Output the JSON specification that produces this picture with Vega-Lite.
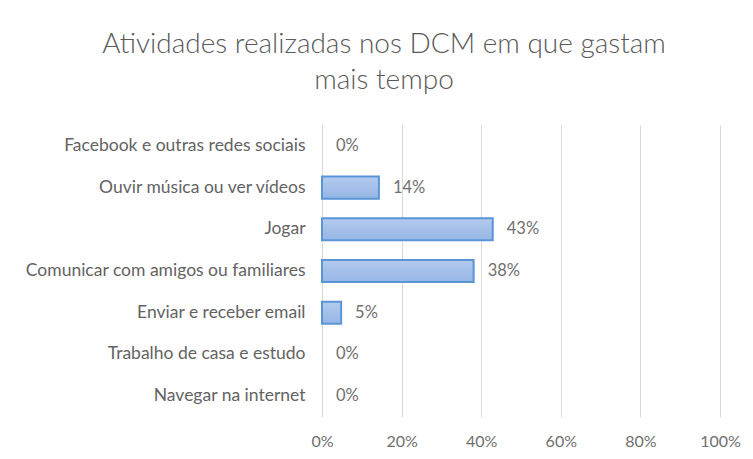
{
  "$schema": "https://vega.github.io/schema/vega-lite/v6.json",
  "autosize": {"type": "none"},
  "width": 398,
  "height": 292,
  "padding": {"left": 322, "top": 125, "right": 33, "bottom": 42},
  "background": "#ffffff",
  "title": {
    "text": ["Atividades  realizadas  nos  DCM  em  que  gastam", "mais  tempo"],
    "font": "Lato",
    "fontSize": 28,
    "fontWeight": 300,
    "color": "#595959",
    "anchor": "middle",
    "dx": -137,
    "offset": 30,
    "lineHeight": 36
  },
  "data": {
    "values": [
      {"atividade": "Facebook e outras redes sociais", "valor": 0},
      {"atividade": "Ouvir música ou ver vídeos", "valor": 0.143},
      {"atividade": "Jogar", "valor": 0.429},
      {"atividade": "Comunicar com amigos ou familiares", "valor": 0.381},
      {"atividade": "Enviar e receber email", "valor": 0.048},
      {"atividade": "Trabalho de casa e estudo", "valor": 0},
      {"atividade": "Navegar na internet", "valor": 0}
    ]
  },
  "encoding": {
    "y": {
      "field": "atividade",
      "type": "nominal",
      "sort": ["Facebook e outras redes sociais", "Ouvir música ou ver vídeos", "Jogar", "Comunicar com amigos ou familiares", "Enviar e receber email", "Trabalho de casa e estudo", "Navegar na internet"],
      "scale": {"paddingInner": 0.47, "paddingOuter": 0.235},
      "axis": {
        "title": null,
        "domain": false,
        "ticks": false,
        "labelPadding": 17,
        "labelLimit": 0,
        "labelFont": "Lato",
        "labelFontSize": 17.5,
        "labelColor": "#636363",
        "grid": false
      }
    },
    "x": {
      "field": "valor",
      "type": "quantitative",
      "scale": {"domain": [0, 1], "nice": false},
      "axis": {
        "title": null,
        "format": ".0%",
        "values": [0, 0.2, 0.4, 0.6, 0.8, 1],
        "domain": false,
        "ticks": false,
        "grid": true,
        "gridColor": "#d9d9d9",
        "gridWidth": 1,
        "labelFlush": false,
        "labelPadding": 16,
        "labelFont": "Lato",
        "labelFontSize": 16,
        "labelColor": "#6f6f6f"
      }
    }
  },
  "layer": [
    {
      "transform": [{"filter": "datum.valor > 0"}],
      "mark": {
        "type": "bar",
        "cornerRadius": 0,
        "stroke": "#5b95d8",
        "strokeWidth": 2,
        "color": {
          "gradient": "linear",
          "x1": 0, "y1": 0, "x2": 0, "y2": 1,
          "stops": [
            {"offset": 0, "color": "#b3cbee"},
            {"offset": 1, "color": "#95b6e5"}
          ]
        }
      }
    },
    {
      "mark": {
        "type": "text",
        "align": "left",
        "baseline": "middle",
        "dx": 14,
        "font": "Lato",
        "fontSize": 16.5,
        "color": "#6f6f6f"
      },
      "encoding": {
        "text": {"field": "valor", "type": "quantitative", "format": ".0%"}
      }
    }
  ],
  "config": {
    "view": {"stroke": null}
  }
}
